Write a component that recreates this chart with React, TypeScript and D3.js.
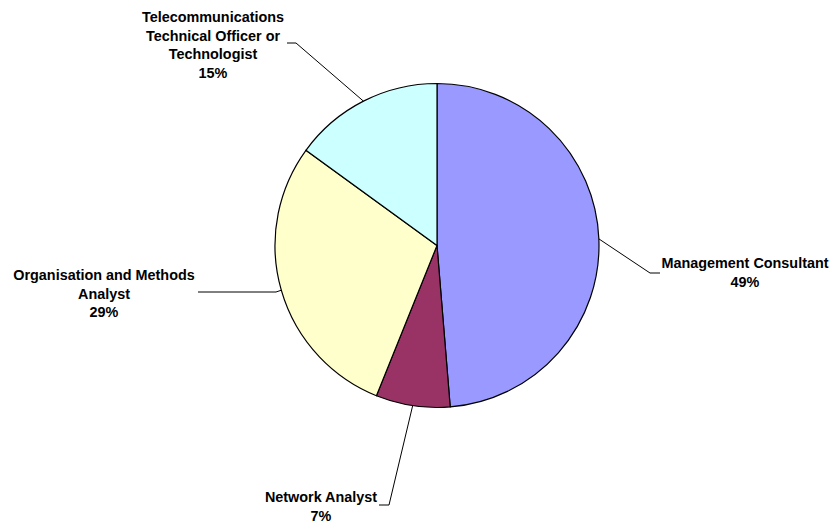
import React from "react";
import * as d3 from "d3";

const categories = [
  "Management Consultant",
  "Network Analyst",
  "Organisation and Methods Analyst",
  "Telecommunications Technical Officer or Technologist",
];
const values = [48.7, 7.4, 28.9, 15.0];
const colors = ["#9999FF", "#993366", "#FFFFCC", "#CCFFFF"];
const labelLines = [
  ["Management Consultant"],
  ["Network Analyst"],
  ["Organisation and Methods", "Analyst"],
  ["Telecommunications", "Technical Officer or", "Technologist"],
];

// layout: elbow point of leader line, horizontal end, label center x, first baseline y
const layout = [
  { ex: 650, ey: 273, hx: 660, tx: 745, ty: 268 },
  { ex: 389, ey: 505, hx: 379, tx: 321, ty: 502 },
  { ex: 276, ey: 292, hx: 198, tx: 104, ty: 280 },
  { ex: 296, ey: 43, hx: 287, tx: 213, ty: 22 },
];

const W = 834;
const H = 523;
const cx = 437;
const cy = 245.5;
const R = 162;

export default function App() {
  const total = d3.sum(values);
  const pie = d3.pie<number>().sort(null).value((d) => d)(values);
  const arc = d3.arc<d3.PieArcDatum<number>>().innerRadius(0).outerRadius(R);
  const lineH = 18.5;
  return (
    <div style={{ position: "fixed", left: 0, top: 0 }}>
      <svg width={W} height={H} style={{ display: "block", background: "#fff" }}>
        <g transform={`translate(${cx},${cy})`}>
          {pie.map((p, i) => (
            <path key={i} d={arc(p) || ""} fill={colors[i]} stroke="#000" strokeWidth={1.2} />
          ))}
        </g>
        {pie.map((p, i) => {
          const mid = (p.startAngle + p.endAngle) / 2;
          const sx = cx + R * Math.sin(mid);
          const sy = cy - R * Math.cos(mid);
          const L = layout[i];
          const pct = Math.round((values[i] / total) * 100) + "%";
          const lines = [...labelLines[i], pct];
          return (
            <g key={"l" + i}>
              <polyline
                points={`${sx},${sy} ${L.ex},${L.ey} ${L.hx},${L.ey}`}
                fill="none"
                stroke="#000"
                strokeWidth={1}
              />
              <text
                x={L.tx}
                y={L.ty}
                textAnchor="middle"
                fontFamily="'Liberation Sans', Arial, sans-serif"
                fontWeight="bold"
                fontSize={14.4}
                fill="#000"
              >
                {lines.map((t, j) => (
                  <tspan key={j} x={L.tx} y={L.ty + j * lineH}>
                    {t}
                  </tspan>
                ))}
              </text>
            </g>
          );
        })}
      </svg>
    </div>
  );
}
